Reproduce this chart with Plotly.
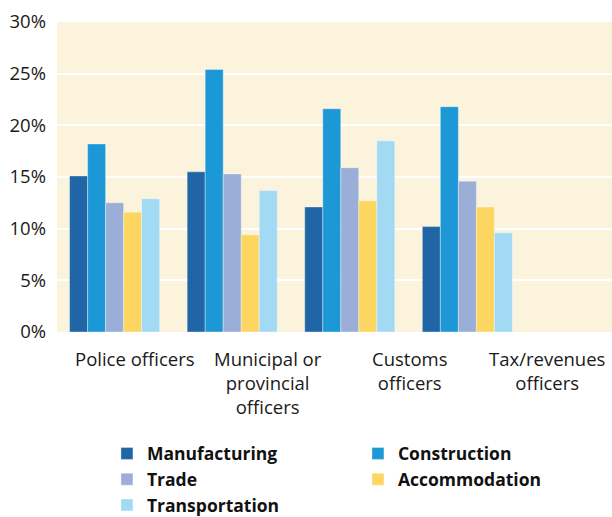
import plotly.graph_objects as go

categories = ["Police officers", "Municipal or provincial officers", "Customs officers", "Tax/revenues officers"]
tick_labels = ["Police officers", "Municipal or<br>provincial<br>officers", "Customs<br>officers", "Tax/revenues<br>officers"]

series = ["Manufacturing", "Construction", "Trade", "Accommodation", "Transportation"]
manufacturing = [15.1, 15.5, 12.1, 10.2]
construction = [18.2, 25.4, 21.6, 21.8]
trade = [12.5, 15.3, 15.9, 14.6]
accommodation = [11.6, 9.4, 12.7, 12.1]
transportation = [12.9, 13.7, 18.5, 9.6]

colors = ["#2065A5", "#1D98D6", "#9AAED8", "#FDD661", "#A3DAF3"]

fig = go.Figure()
for name, vals, col in zip(series, [manufacturing, construction, trade, accommodation, transportation], colors):
    fig.add_trace(go.Bar(
        x=categories, y=vals, name=name,
        marker=dict(color=col, line=dict(color="rgba(255,255,255,0.45)", width=0.8)),
    ))

# category labels sit a little to the right of the bar groups in the original
label_x = [0.14, 0.38, 0.635, 0.883]
for lx, txt in zip(label_x, tick_labels):
    fig.add_annotation(
        x=lx, y=-0.04, xref="paper", yref="paper", text=txt, showarrow=False,
        xanchor="center", yanchor="top", align="center",
        font=dict(family="Open Sans", size=18.5, color="#1a1a1a"),
    )

fig.update_layout(
    width=612, height=517,
    margin=dict(l=57, r=0, t=22, b=185, autoexpand=False),
    plot_bgcolor="#FCF3DC", paper_bgcolor="white",
    barmode="group", bargap=0.234, bargroupgap=0,
    font=dict(family="Open Sans", size=18.5, color="#1a1a1a"),
    xaxis=dict(range=[-0.49, 4.23], showticklabels=False, showgrid=False, ticks="", showline=False),
    yaxis=dict(range=[0, 30], dtick=5, ticksuffix="%", showgrid=True, gridcolor="white",
               gridwidth=2, zeroline=False, showline=False, ticks="", ticklabelstandoff=10,
               tickfont=dict(size=18.5, color="#1a1a1a")),
    legend=dict(orientation="h", x=0.09, y=-0.334, xanchor="left", yanchor="top",
                entrywidth=206, font=dict(family="Open Sans", size=17.5, color="#111", weight="bold"),
                itemwidth=30, tracegroupgap=0, bgcolor="rgba(0,0,0,0)"),
    showlegend=True,
)

fig.write_html("out.html", config={"displayModeBar": False},
               post_script="document.body.style.margin='0';")
